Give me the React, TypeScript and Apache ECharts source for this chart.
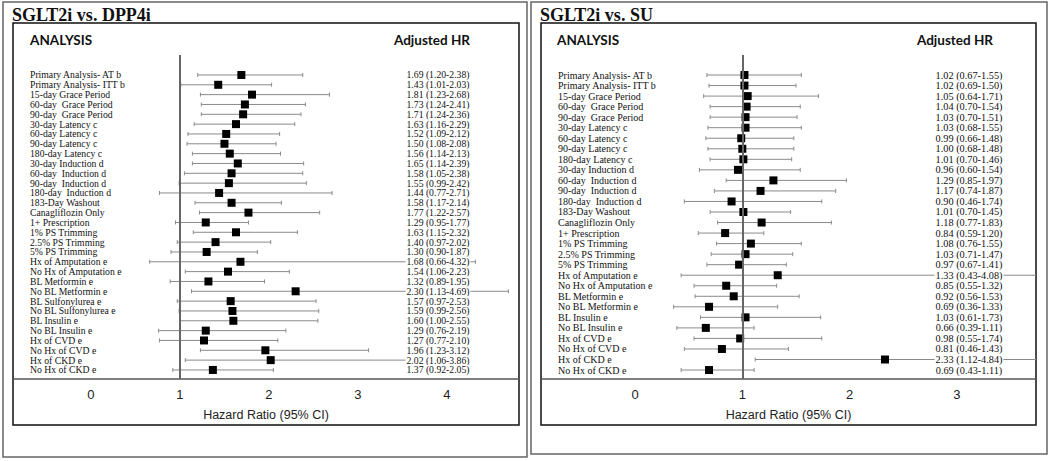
import { useEffect, useRef } from "react";
import * as echarts from "echarts";

const leftLabels = [
  "Primary Analysis- AT b", "Primary Analysis- ITT b", "15-day Grace Period", "60-day  Grace Period",
  "90-day  Grace Period", "30-day Latency c", "60-day Latency c", "90-day Latency c", "180-day Latency c",
  "30-day Induction d", "60-day  Induction d", "90-day  Induction d", "180-day  Induction d",
  "183-Day Washout", "Canagliflozin Only", "1+ Prescription", "1% PS Trimming", "2.5% PS Trimming",
  "5% PS Trimming", "Hx of Amputation e", "No Hx of Amputation e", "BL Metformin e", "No BL Metformin e",
  "BL Sulfonylurea e", "No BL Sulfonylurea e", "BL Insulin e", "No BL Insulin e", "Hx of CVD e",
  "No Hx of CVD e", "Hx of CKD e", "No Hx of CKD e",
];
const leftHR = [1.69, 1.43, 1.81, 1.73, 1.71, 1.63, 1.52, 1.5, 1.56, 1.65, 1.58, 1.55, 1.44, 1.58, 1.77, 1.29, 1.63, 1.4, 1.3, 1.68, 1.54, 1.32, 2.3, 1.57, 1.59, 1.6, 1.29, 1.27, 1.96, 2.02, 1.37];
const leftLo = [1.2, 1.01, 1.23, 1.24, 1.24, 1.16, 1.09, 1.08, 1.14, 1.14, 1.05, 0.99, 0.77, 1.17, 1.22, 0.95, 1.15, 0.97, 0.9, 0.66, 1.06, 0.89, 1.13, 0.97, 0.99, 1.0, 0.76, 0.77, 1.23, 1.06, 0.92];
const leftHi = [2.38, 2.03, 2.68, 2.41, 2.36, 2.29, 2.12, 2.08, 2.13, 2.39, 2.38, 2.42, 2.71, 2.14, 2.57, 1.77, 2.32, 2.02, 1.87, 4.32, 2.23, 1.95, 4.69, 2.53, 2.56, 2.55, 2.19, 2.1, 3.12, 3.86, 2.05];

const rightLabels = [
  "Primary Analysis- AT b", "Primary Analysis- ITT b", "15-day Grace Period", "60-day  Grace Period",
  "90-day  Grace Period", "30-day Latency c", "60-day Latency c", "90-day Latency c", "180-day Latency c",
  "30-day Induction d", "60-day  Induction d", "90-day  Induction d", "180-day  Induction d",
  "183-Day Washout", "Canagliflozin Only", "1+ Prescription", "1% PS Trimming", "2.5% PS Trimming",
  "5% PS Trimming", "Hx of Amputation e", "No Hx of Amputation e", "BL Metformin e", "No BL Metformin e",
  "BL Insulin e", "No BL Insulin e", "Hx of CVD e", "No Hx of CVD e", "Hx of CKD e", "No Hx of CKD e",
];
const rightHR = [1.02, 1.02, 1.05, 1.04, 1.03, 1.03, 0.99, 1.0, 1.01, 0.96, 1.29, 1.17, 0.9, 1.01, 1.18, 0.84, 1.08, 1.03, 0.97, 1.33, 0.85, 0.92, 0.69, 1.03, 0.66, 0.98, 0.81, 2.33, 0.69];
const rightLo = [0.67, 0.69, 0.64, 0.7, 0.7, 0.68, 0.66, 0.68, 0.7, 0.6, 0.85, 0.74, 0.46, 0.7, 0.77, 0.59, 0.76, 0.71, 0.67, 0.43, 0.55, 0.56, 0.36, 0.61, 0.39, 0.55, 0.46, 1.12, 0.43];
const rightHi = [1.55, 1.5, 1.71, 1.54, 1.51, 1.55, 1.48, 1.48, 1.46, 1.54, 1.97, 1.87, 1.74, 1.45, 1.83, 1.2, 1.55, 1.47, 1.41, 4.08, 1.32, 1.53, 1.33, 1.73, 1.11, 1.74, 1.43, 4.84, 1.11];

const leftTicks = [0, 1, 2, 3, 4];
const rightTicks = [0, 1, 2, 3];

const fmt = (h: number, l: number, u: number) => `${h.toFixed(2)} (${l.toFixed(2)}-${u.toFixed(2)})`;

const SERIF = "'Liberation Serif', 'Times New Roman', serif";
const SANS = "'Liberation Sans', Arial, sans-serif";

const makeRender = (labels: string[], hrMargin: number, fs: number, hfs: number) => (params: any, api: any) => {
  const cs = params.coordSys;
  const idx = api.value(0);
  const hr = api.value(1);
  const lo = api.value(2);
  const hi = api.value(3);
  const pL = api.coord([lo, idx]);
  const pH = api.coord([hi, idx]);
  const pM = api.coord([hr, idx]);
  const xR = Math.min(pH[0], cs.x + cs.width);
  const s = 8;
  const ls = { stroke: "#8a8a8a", lineWidth: 1 };
  const children: any[] = [
    { type: "line", shape: { x1: pL[0], y1: pL[1], x2: xR, y2: pH[1] }, style: ls },
    { type: "line", shape: { x1: pL[0], y1: pL[1] - 2, x2: pL[0], y2: pL[1] + 2 }, style: ls },
  ];
  if (pH[0] <= cs.x + cs.width) {
    children.push({ type: "line", shape: { x1: pH[0], y1: pH[1] - 2, x2: pH[0], y2: pH[1] + 2 }, style: ls });
  }
  children.push(
    { type: "rect", shape: { x: pM[0] - s / 2, y: pM[1] - s / 2, width: s, height: s }, style: { fill: "#000" } },
    {
      type: "text",
      x: cs.x + 17,
      y: pM[1],
      style: { text: labels[idx], fontFamily: SERIF, fontSize: fs, lineHeight: fs, fill: "#111", align: "left", verticalAlign: "middle" },
    },
    {
      type: "text",
      x: cs.x + cs.width - hrMargin,
      y: pM[1],
      style: {
        text: fmt(hr, lo, hi),
        fontFamily: SERIF,
        fontSize: hfs,
        lineHeight: hfs,
        fill: "#111",
        align: "center",
        verticalAlign: "middle",
        backgroundColor: "#fff",
        padding: [0, 1],
      },
    }
  );
  return { type: "group", children };
};

export default function App() {
  const ref = useRef<HTMLDivElement>(null);
  useEffect(() => {
    document.body.style.margin = "0";
    const chart = echarts.init(ref.current!, null, { renderer: "svg" });
    const panel = (
      gi: number,
      labels: string[],
      hr: number[],
      lo: number[],
      hi: number[],
      ticks: number[],
      xMax: number,
      yMin: number,
      yMax: number,
      hrMargin: number,
      fs: number,
      hfs: number
    ) => ({
      xAxis: {
        type: "value",
        gridIndex: gi,
        position: "bottom",
        min: -0.876,
        max: xMax,
        splitLine: { show: false },
        axisTick: { show: false },
        axisLine: { show: true, onZero: false, lineStyle: { color: "#555", width: 1.5 } },
        axisLabel: {
          customValues: ticks,
          color: "#222",
          fontSize: 13,
          fontFamily: SANS,
          margin: 9,
          formatter: (v: number) => String(v),
        },
        name: "Hazard Ratio (95% CI)",
        nameLocation: "middle",
        nameGap: 29,
        nameTextStyle: { color: "#222", fontSize: 12.5, fontFamily: SANS },
      },
      yAxis: {
        type: "value",
        gridIndex: gi,
        inverse: true,
        min: yMin,
        max: yMax,
        axisLine: { show: false, onZero: false },
        axisTick: { show: false },
        axisLabel: { show: false },
        splitLine: { show: false },
      },
      series: {
        type: "custom",
        xAxisIndex: gi,
        yAxisIndex: gi,
        clip: false,
        renderItem: makeRender(labels, hrMargin, fs, hfs),
        encode: { x: [1, 2, 3], y: 0 },
        data: hr.map((h, i) => [i, h, lo[i], hi[i]]),
        markLine: {
          silent: true,
          symbol: "none",
          label: { show: false },
          lineStyle: { color: "#666", width: 2, type: "solid" },
          data: [{ xAxis: 1 }],
        },
      },
    });
    const L = panel(0, leftLabels, leftHR, leftLo, leftHi, leftTicks, 4.81, -2.03, 30.92, 81, 9.7, 9.7);
    const R = panel(1, rightLabels, rightHR, rightLo, rightHi, rightTicks, 3.737, -1.9, 28.85, 67, 10, 10.3);

    const headerText = (x: number, text: string, align: string) => ({
      type: "text",
      x,
      y: 40,
      style: { text, fontFamily: "Lato, 'Open Sans', sans-serif", fontWeight: "bold", fontSize: 13.5, fill: "#111", align, verticalAlign: "middle" },
    });
    const titleText = (x: number, text: string) => ({
      type: "text",
      x,
      y: 15,
      style: { text, fontFamily: SERIF, fontWeight: "bold", fontSize: 18, fill: "#111", verticalAlign: "middle" },
    });

    chart.setOption({
      animation: false,
      backgroundColor: "#fff",
      grid: [
        { left: 13, right: 531, top: 55, bottom: 82 },
        { left: 541, right: 14, top: 55, bottom: 82 },
      ],
      xAxis: [L.xAxis, R.xAxis],
      yAxis: [L.yAxis, R.yAxis],
      series: [L.series, R.series],
      graphic: [
        { type: "rect", shape: { x: 3, y: 2, width: 524, height: 455 }, style: { fill: "none", stroke: "#666", lineWidth: 1.5 } },
        { type: "rect", shape: { x: 531, y: 2, width: 516, height: 452 }, style: { fill: "none", stroke: "#666", lineWidth: 1.5 } },
        { type: "rect", shape: { x: 13, y: 23, width: 506, height: 402 }, style: { fill: "none", stroke: "#111", lineWidth: 1.5 } },
        { type: "rect", shape: { x: 541, y: 23, width: 495, height: 402 }, style: { fill: "none", stroke: "#111", lineWidth: 1.5 } },
        titleText(12, "SGLT2i vs. DPP4i"),
        titleText(540, "SGLT2i vs. SU"),
        headerText(30, "ANALYSIS", "left"),
        headerText(432, "Adjusted HR", "center"),
        headerText(557, "ANALYSIS", "left"),
        headerText(955, "Adjusted HR", "center"),
      ],
    });
    return () => chart.dispose();
  }, []);
  return <div ref={ref} style={{ position: "absolute", left: 0, top: 0, width: 1050, height: 461 }} />;
}
